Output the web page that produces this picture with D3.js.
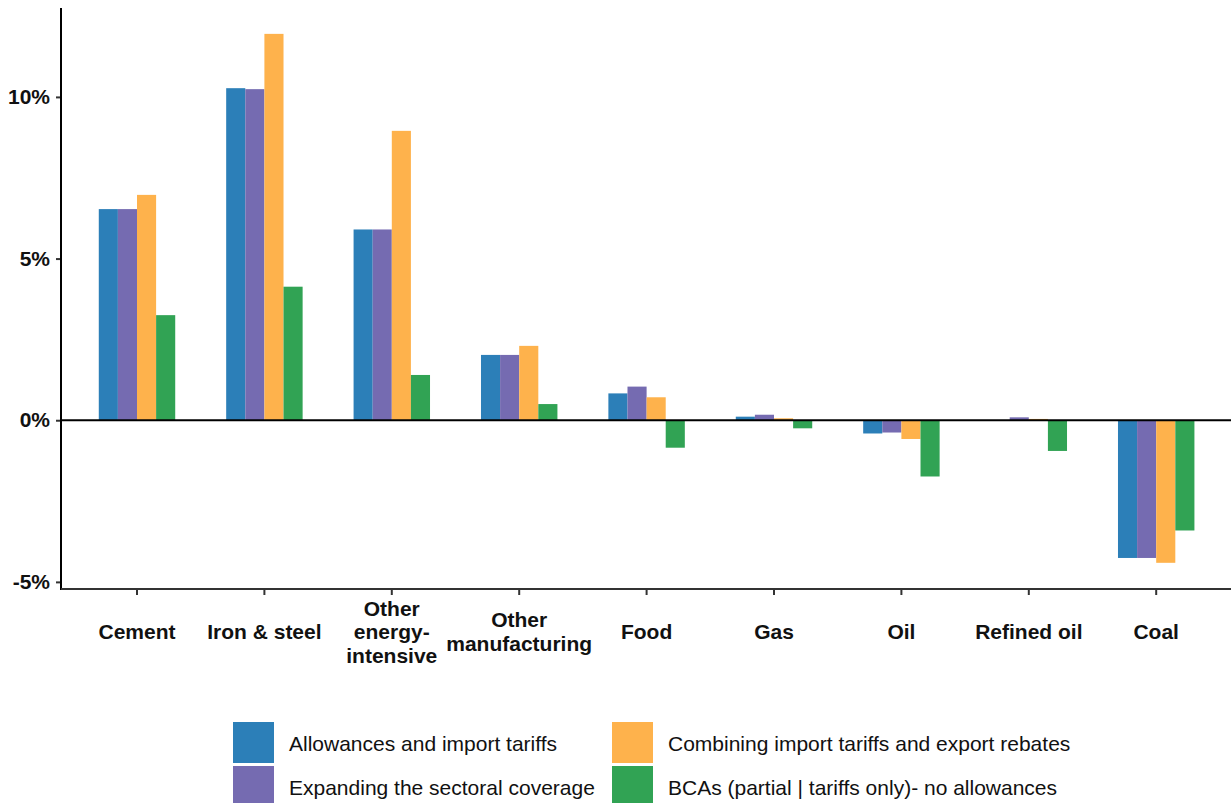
<!DOCTYPE html>
<html><head><meta charset="utf-8">
<script src="https://cdn.jsdelivr.net/npm/d3@7"></script>
<style>
html,body{margin:0;padding:0;background:#fff;}
svg{display:block;font-family:"Liberation Sans",Arial,sans-serif;}
</style></head>
<body>
<svg id="chart" width="1231" height="803"></svg>
<script>
const categories = [["Cement"],["Iron & steel"],["Other","energy-","intensive"],["Other","manufacturing"],["Food"],["Gas"],["Oil"],["Refined oil"],["Coal"]];
const seriesNames = ["Allowances and import tariffs","Expanding the sectoral coverage","Combining import tariffs and export rebates","BCAs (partial | tariffs only)- no allowances"];
const allowances = [6.53, 10.27, 5.9, 2.02, 0.83, 0.11, -0.41, 0.0, -4.26];
const expanding  = [6.53, 10.24, 5.9, 2.02, 1.04, 0.17, -0.38, 0.09, -4.26];
const combining  = [6.97, 11.95, 8.95, 2.30, 0.71, 0.06, -0.58, 0.04, -4.41];
const bcas       = [3.25, 4.13, 1.40, 0.50, -0.85, -0.25, -1.74, -0.95, -3.41];
const yTicks = [-5, 0, 5, 10];
const colors = ["#2c7fb8","#756bb1","#feb24c","#31a354"];

const series = [allowances, expanding, combining, bcas];
const svg = d3.select("#chart");
const catKeys = categories.map(c => c.join(" "));

const x = d3.scaleBand().domain(catKeys).range([73.3, 1219.9]).paddingInner(0).paddingOuter(0);
const groupW = x.bandwidth() * 0.6;
const xs = d3.scaleBand().domain(d3.range(4)).range([0, groupW]);
const y = d3.scaleLinear().domain([-5.22, 12.75]).range([589, 8]);

const axisLeftX = 61;

// bars
series.forEach((vals, si) => {
  svg.append("g").selectAll("rect").data(vals).join("rect")
    .attr("x", (d, i) => x(catKeys[i]) + (x.bandwidth() - groupW) / 2 + xs(si))
    .attr("width", xs.bandwidth())
    .attr("y", d => y(Math.max(0, d)))
    .attr("height", d => Math.abs(y(d) - y(0)))
    .attr("fill", colors[si]);
});

// y axis
const yAxis = svg.append("g").attr("transform", `translate(${axisLeftX},0)`)
  .call(d3.axisLeft(y).tickValues(yTicks).tickFormat(d => d + "%").tickSize(5).tickPadding(6));
yAxis.select(".domain").remove();
yAxis.selectAll(".tick line").attr("stroke", "#333").attr("stroke-width", 2);
yAxis.selectAll(".tick text").attr("font-size", 21).attr("font-weight", "bold").attr("fill", "#111")
  .attr("font-family", "Liberation Sans, Arial, sans-serif");
svg.append("line").attr("x1", axisLeftX).attr("x2", axisLeftX).attr("y1", 8).attr("y2", 590)
  .attr("stroke", "#000").attr("stroke-width", 2);

// zero line
svg.append("line").attr("x1", axisLeftX).attr("x2", 1231).attr("y1", y(0)).attr("y2", y(0))
  .attr("stroke", "#000").attr("stroke-width", 2);

// x axis
const xAxis = svg.append("g").attr("transform", `translate(0,589)`)
  .call(d3.axisBottom(x).tickSize(6).tickFormat(""));
xAxis.select(".domain").remove();
xAxis.selectAll(".tick line").attr("stroke", "#333").attr("stroke-width", 2);
svg.append("line").attr("x1", axisLeftX).attr("x2", 1231).attr("y1", 589).attr("y2", 589)
  .attr("stroke", "#333").attr("stroke-width", 2);

// x labels
const lh = 23.5;
categories.forEach((lines, i) => {
  const cx = x(catKeys[i]) + x.bandwidth() / 2;
  const t = svg.append("text").attr("x", cx).attr("text-anchor", "middle")
    .attr("font-size", 21).attr("font-weight", "bold").attr("fill", "#111");
  const y0 = 639 - (lines.length - 1) * lh / 2;
  lines.forEach((ln, j) => {
    t.append("tspan").attr("x", cx).attr("y", y0 + j * lh).text(ln);
  });
});

// legend
const legPos = [[233, 722], [233, 766], [612, 722], [612, 766]];
seriesNames.forEach((name, i) => {
  const [lx, ly] = legPos[i];
  svg.append("rect").attr("x", lx).attr("y", ly).attr("width", 41).attr("height", 41).attr("fill", colors[i]);
  svg.append("text").attr("x", lx + 56).attr("y", ly + 29).attr("font-size", 21).attr("fill", "#111").text(name);
});
</script>
</body></html>
